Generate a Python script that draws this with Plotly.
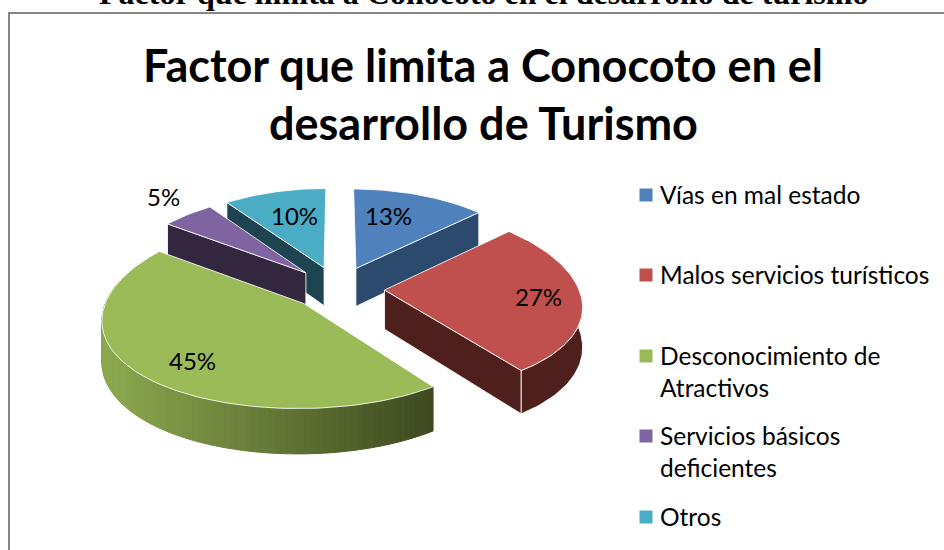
import numpy as np
import plotly.graph_objects as go

categories = ["Vías en mal estado", "Malos servicios turísticos",
              "Desconocimiento de<br>Atractivos", "Servicios básicos<br>deficientes", "Otros"]
values = [13, 27, 45, 5, 10]
top_colors = ["#4F81BD", "#C0504D", "#9BBB59", "#8064A2", "#4BACC6"]
wall_colors = ["#2C4A6E", "#4F1F1E", "#3E4A20", "#33273F", "#1D4450"]
chart_title_lines = ["Factor que limita a Conocoto en el", "desarrollo de Turismo"]
title_y = [65, 123]
page_heading = "Factor que limita a Conocoto en el desarrollo de turismo"
label_xy = [(388, 215), (538, 296), (192, 360), (163, 196), (294, 215)]
legend_y = [195, 275, 356, 436, 517]

CX, CY, R, H, KX, KY, EXPLODE, DEPTH = 338, 288, 194, 91, 0.15, 0.10, 0.24, 39


def proj(x, y, drop=False):
    x, y = np.asarray(x, float), np.asarray(y, float)
    sx = CX + R * x / (1 + KX * y)
    sy = CY - H * y / (1 + KY * y)
    if drop:
        sy = sy + DEPTH / (1 + 0.12 * y)
    return sx, sy


def lerp(a, b, t):
    a = [int(a[i:i + 2], 16) for i in (1, 3, 5)]
    b = [int(b[i:i + 2], 16) for i in (1, 3, 5)]
    return "rgb(%d,%d,%d)" % tuple(a[i] + (b[i] - a[i]) * t for i in range(3))


fig = go.Figure()


def poly(xs, ys, fill, line="rgba(255,255,255,0.85)", width=1):
    fig.add_trace(go.Scatter(x=list(xs), y=list(ys), mode="lines", fill="toself", fillcolor=fill,
                             line=dict(color=line, width=width), hoverinfo="skip", showlegend=False))


total = sum(values)
edges = np.cumsum([0] + values) / total * 2 * np.pi
order = [4, 3, 0, 2, 1]
for i in order:
    a0, a1 = edges[i], edges[i + 1]
    mid = (a0 + a1) / 2
    ox, oy = EXPLODE * np.sin(mid), EXPLODE * np.cos(mid)
    th = np.linspace(a0, a1, max(8, int((a1 - a0) * 40)))
    ax, ay = ox + np.sin(th), oy + np.cos(th)

    # radial side walls that face the viewer
    if i in (0, 1):
        ex, ey = ox + np.sin(a1), oy + np.cos(a1)
        t1 = proj([ox, ex], [oy, ey])
        b1 = proj([ox, ex], [oy, ey], True)
        poly(np.r_[t1[0], b1[0][::-1], t1[0][0]], np.r_[t1[1], b1[1][::-1], t1[1][0]], wall_colors[i])
    if i in (3, 4):
        ex, ey = ox + np.sin(a0), oy + np.cos(a0)
        t1 = proj([ox, ex], [oy, ey])
        b1 = proj([ox, ex], [oy, ey], True)
        poly(np.r_[t1[0], b1[0][::-1], t1[0][0]], np.r_[t1[1], b1[1][::-1], t1[1][0]], wall_colors[i])

    # outer rim wall: the part of the arc on the near side
    vis = (th > np.pi / 2 - 0.02) & (th < 3 * np.pi / 2 + 0.25)
    if vis.any() and i in (1, 2):
        rx, ry = ax[vis], ay[vis]
        tx, ty = proj(rx, ry)
        bx, by = proj(rx, ry, True)
        if i == 2:
            n = len(rx)
            span = tx.max() - tx.min()
            for k in range(n - 1):
                f = (tx.max() - tx[k]) / span
                f = min(1, f * 1.05)
                c = lerp("#3E4A20", "#8AA64E", f)
                poly([tx[k], tx[k + 1], bx[k + 1], bx[k], tx[k]],
                     [ty[k], ty[k + 1], by[k + 1], by[k], ty[k]], c, line=c, width=1)
        else:
            poly(np.r_[tx, bx[::-1], tx[0]], np.r_[ty, by[::-1], ty[0]], wall_colors[i])

    # top face
    fx, fy = proj(np.r_[ox, ax, ox], np.r_[oy, ay, oy])
    poly(fx, fy, top_colors[i])

# legend swatches
fig.add_trace(go.Scatter(x=[646] * len(categories), y=legend_y, mode="markers",
                         marker=dict(symbol="square", size=13, color=top_colors),
                         hoverinfo="skip", showlegend=False))

annotations = [
    dict(text=page_heading, x=484 / 944, y=1, xref="paper", yref="paper", yanchor="bottom", yshift=-13,
         font=dict(family="Liberation Serif", size=32, color="black", weight="bold"),
         showarrow=False, xanchor="center"),
]
for line, y in zip(chart_title_lines, title_y):
    annotations.append(dict(text=line, x=483, y=y, xref="x", yref="y",
                            font=dict(family="Lato", size=45, color="black", weight="bold"),
                            showarrow=False, xanchor="center", yanchor="middle"))
for v, (x, y) in zip(values, label_xy):
    annotations.append(dict(text=f"{v}%", x=x, y=y, xref="x", yref="y", showarrow=False,
                            font=dict(family="Lato", size=24, color="black")))
for name, y in zip(categories, legend_y):
    annotations.append(dict(text=name, x=658, y=y - 17, xref="x", yref="y", showarrow=False,
                            xanchor="left", yanchor="top", align="left",
                            font=dict(family="Lato", size=24.5, color="black")))

fig.update_layout(
    width=944, height=550, margin=dict(l=0, r=0, t=0, b=0),
    paper_bgcolor="white", plot_bgcolor="white",
    xaxis=dict(range=[0, 944], visible=False, fixedrange=True),
    yaxis=dict(range=[550, 0], visible=False, fixedrange=True),
    annotations=annotations,
    shapes=[dict(type="rect", xref="x", yref="y", x0=9, y0=13, x1=960, y1=570,
                 line=dict(color="#868686", width=2), layer="below")],
)
fig.write_html("out.html", config={"displayModeBar": False},
               post_script="document.body.style.margin='0';window.dispatchEvent(new Event('resize'));")
